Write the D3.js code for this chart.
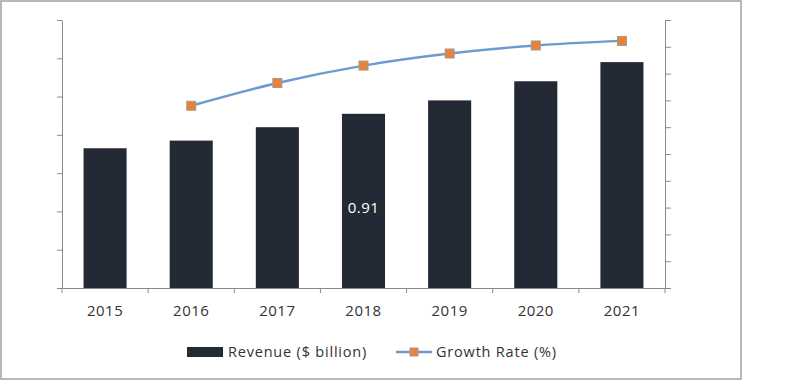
<!DOCTYPE html>
<html>
<head>
<meta charset="utf-8">
<script src="https://cdn.jsdelivr.net/npm/d3@7"></script>
<style>
  body { margin: 0; background: #fff; }
  svg { display: block; font-family: "Open Sans", sans-serif; }
  .axis path, .axis line { stroke: #8a8a8a; }
</style>
</head>
<body>
<div id="chart"></div>
<script>
// chart data
const years = ['2015', '2016', '2017', '2018', '2019', '2020', '2021'];
const revenue = [0.73, 0.77, 0.84, 0.91, 0.98, 1.08, 1.18];
const growth = [null, 6.8, 7.65, 8.3, 8.75, 9.05, 9.22];
const labelled = ['2018'];

const W = 800, H = 381;
const margin = {left: 62, right: 135, top: 20, bottom: 93};
const FONT = '"Open Sans", sans-serif';

const svg = d3.select('#chart').append('svg')
  .attr('width', W)
  .attr('height', H);

// outer frame
svg.append('rect')
  .attr('x', 1).attr('y', 1)
  .attr('width', 740).attr('height', 378)
  .attr('fill', '#fff')
  .attr('stroke', '#a0a0a0')
  .attr('stroke-width', 1.5);

const x = d3.scaleBand()
  .domain(years)
  .range([margin.left, W - margin.right])
  .paddingInner(0.5)
  .paddingOuter(0.25);

const yL = d3.scaleLinear().domain([0, 1.4]).range([H - margin.bottom, margin.top]);
const yR = d3.scaleLinear().domain([0, 10]).range([H - margin.bottom, margin.top]);

// bars
svg.selectAll('.bar')
  .data(years)
  .enter()
  .append('rect')
  .attr('class', 'bar')
  .attr('x', d => x(d))
  .attr('width', x.bandwidth())
  .attr('y', (d, i) => yL(revenue[i]))
  .attr('height', (d, i) => yL(0) - yL(revenue[i]))
  .attr('fill', '#232a35');

// data label
svg.selectAll('.lbl')
  .data(years.filter(d => labelled.includes(d)))
  .enter()
  .append('text')
  .attr('class', 'lbl')
  .attr('x', d => x(d) + x.bandwidth() / 2)
  .attr('y', d => (yL(revenue[years.indexOf(d)]) + yL(0)) / 2 + 12)
  .attr('text-anchor', 'middle')
  .attr('fill', '#fff')
  .attr('font-size', 15)
  .attr('letter-spacing', 0.5)
  .text(d => revenue[years.indexOf(d)].toFixed(2));

// axes
const ticksNoText = g => g.selectAll('text').remove();

svg.append('g')
  .attr('class', 'axis')
  .attr('transform', `translate(${margin.left},0)`)
  .call(d3.axisLeft(yL).ticks(7).tickSize(5).tickSizeOuter(0))
  .call(ticksNoText);

svg.append('g')
  .attr('class', 'axis')
  .attr('transform', `translate(${W - margin.right},0)`)
  .call(d3.axisRight(yR).ticks(10).tickSize(6).tickSizeOuter(0))
  .call(ticksNoText);

const xAxis = svg.append('g')
  .attr('class', 'axis')
  .attr('transform', `translate(0,${H - margin.bottom})`)
  .call(d3.axisBottom(x).tickSize(0).tickPadding(17));
xAxis.selectAll('text')
  .attr('font-size', 15)
  .attr('letter-spacing', 0.5)
  .attr('fill', '#333')
  .attr('font-family', FONT);

// category boundary ticks
const step = x.step();
svg.append('g')
  .selectAll('line')
  .data(d3.range(years.length + 1))
  .enter()
  .append('line')
  .attr('x1', i => margin.left + i * step)
  .attr('x2', i => margin.left + i * step)
  .attr('y1', H - margin.bottom)
  .attr('y2', H - margin.bottom + 5)
  .attr('stroke', '#8a8a8a');

// growth line
const pts = years.map((d, i) => ({year: d, v: growth[i]})).filter(p => p.v != null);
const line = d3.line()
  .x(p => x(p.year) + x.bandwidth() / 2)
  .y(p => yR(p.v))
  .curve(d3.curveMonotoneX);

svg.append('path')
  .datum(pts)
  .attr('d', line)
  .attr('fill', 'none')
  .attr('stroke', '#6c9bd0')
  .attr('stroke-width', 2.4);

svg.selectAll('.mk')
  .data(pts)
  .enter()
  .append('rect')
  .attr('class', 'mk')
  .attr('x', p => x(p.year) + x.bandwidth() / 2 - 4.5)
  .attr('y', p => yR(p.v) - 4.5)
  .attr('width', 9)
  .attr('height', 9)
  .attr('fill', '#e8823a')
  .attr('stroke', '#a89a8c')
  .attr('stroke-width', 1);

// legend
const leg = svg.append('g').attr('font-size', 14.5).attr('font-family', FONT).attr('letter-spacing', 0.8);
leg.append('rect')
  .attr('x', 187).attr('y', 347)
  .attr('width', 36).attr('height', 10)
  .attr('fill', '#232a35');
leg.append('text')
  .attr('x', 228).attr('y', 357)
  .attr('fill', '#333')
  .text('Revenue ($ billion)');
leg.append('line')
  .attr('x1', 396).attr('x2', 432)
  .attr('y1', 352).attr('y2', 352)
  .attr('stroke', '#6c9bd0')
  .attr('stroke-width', 2.4);
leg.append('rect')
  .attr('x', 410).attr('y', 348)
  .attr('width', 8).attr('height', 8)
  .attr('fill', '#e8823a')
  .attr('stroke', '#a89a8c');
leg.append('text')
  .attr('x', 436).attr('y', 357)
  .attr('fill', '#333')
  .text('Growth Rate (%)');
</script>
</body>
</html>
